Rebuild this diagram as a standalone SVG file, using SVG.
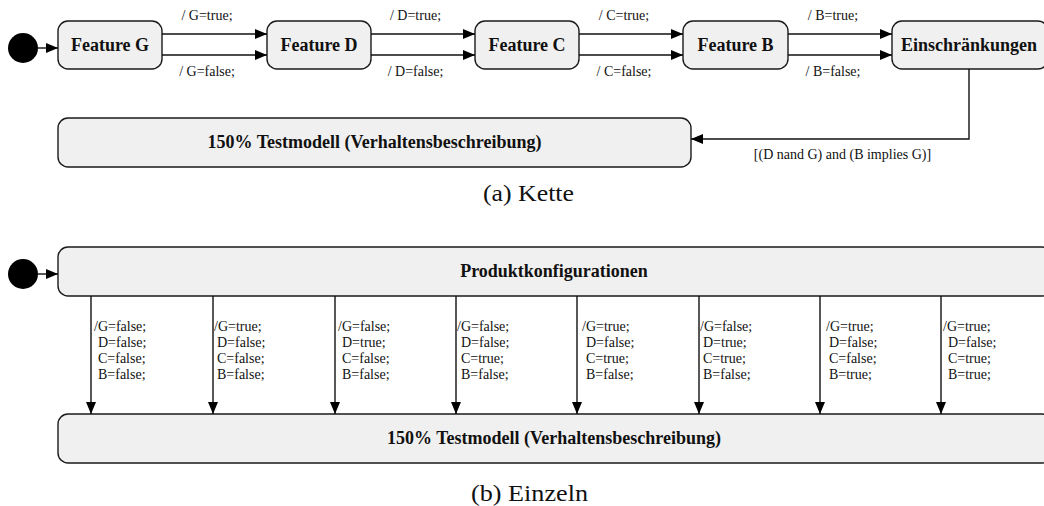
<svg xmlns="http://www.w3.org/2000/svg" width="1044" height="506" viewBox="0 0 1044 506">
  <style>
    .state { fill: #f0f0f0; stroke: #1a1a1a; stroke-width: 1.4; }
    .init { fill: #000; }
    .name { font-family: "Liberation Serif", "Times New Roman", serif; font-weight: bold; font-size: 18px; fill: #111; text-anchor: middle; }
    .lbl { font-family: "Liberation Serif", "Times New Roman", serif; font-size: 14px; fill: #111; }
    .mid { text-anchor: middle; }
    .cap { font-family: "Liberation Serif", "Times New Roman", serif; font-size: 23px; fill: #111; }
    .edge { fill: none; stroke: #111; stroke-width: 1.4; }
  </style>
  <defs>
    <marker id="arrow" viewBox="0 0 12 10" refX="12" refY="5" markerWidth="12" markerHeight="10" markerUnits="userSpaceOnUse" orient="auto">
      <path d="M0,0 L12,5 L0,10 z" fill="#000"/>
    </marker>
  </defs>

  <!-- (a) chain of feature decisions -->
  <circle id="start-a" class="init" cx="23" cy="48" r="15"/>
  <g id="feature-g"><rect class="state" x="58" y="21" width="104" height="48" rx="10"/><text class="name" x="110" y="51">Feature G</text></g>
  <g id="feature-d"><rect class="state" x="267" y="21" width="104" height="48" rx="10"/><text class="name" x="319" y="51">Feature D</text></g>
  <g id="feature-c"><rect class="state" x="475" y="21" width="104" height="48" rx="10"/><text class="name" x="527" y="51">Feature C</text></g>
  <g id="feature-b"><rect class="state" x="683" y="21" width="105" height="48" rx="10"/><text class="name" x="735.5" y="51">Feature B</text></g>
  <g id="einschraenkungen"><rect class="state" x="892" y="21" width="156" height="48" rx="10"/><text class="name" x="969" y="51">Einschränkungen</text></g>
  <g id="testmodell-a"><rect class="state" x="58" y="118" width="633" height="49" rx="10"/><text class="name" x="374.5" y="148">150% Testmodell (Verhaltensbeschreibung)</text></g>

  <g id="edges-a">
    <line class="edge" x1="38" y1="48" x2="58" y2="48" marker-end="url(#arrow)"/>
    <line class="edge" x1="162" y1="34" x2="267" y2="34" marker-end="url(#arrow)"/>
    <line class="edge" x1="162" y1="55" x2="267" y2="55" marker-end="url(#arrow)"/>
    <line class="edge" x1="371" y1="34" x2="475" y2="34" marker-end="url(#arrow)"/>
    <line class="edge" x1="371" y1="55" x2="475" y2="55" marker-end="url(#arrow)"/>
    <line class="edge" x1="579" y1="34" x2="683" y2="34" marker-end="url(#arrow)"/>
    <line class="edge" x1="579" y1="55" x2="683" y2="55" marker-end="url(#arrow)"/>
    <line class="edge" x1="788" y1="34" x2="892" y2="34" marker-end="url(#arrow)"/>
    <line class="edge" x1="788" y1="55" x2="892" y2="55" marker-end="url(#arrow)"/>
    <polyline class="edge" points="969,69 969,139 691,139" marker-end="url(#arrow)"/>
    <text class="lbl mid" x="207" y="20">/ G=true;</text>
    <text class="lbl mid" x="207" y="76">/ G=false;</text>
    <text class="lbl mid" x="415.5" y="20">/ D=true;</text>
    <text class="lbl mid" x="415.5" y="76">/ D=false;</text>
    <text class="lbl mid" x="624" y="20">/ C=true;</text>
    <text class="lbl mid" x="624" y="76">/ C=false;</text>
    <text class="lbl mid" x="833" y="20">/ B=true;</text>
    <text class="lbl mid" x="833" y="76">/ B=false;</text>
    <text class="lbl mid" x="842.5" y="159">[(D nand G) and (B implies G)]</text>
  </g>
  <text class="cap" x="483" y="201" textLength="91" lengthAdjust="spacingAndGlyphs">(a) Kette</text>

  <!-- (b) one transition per product configuration -->
  <circle id="start-b" class="init" cx="23" cy="274" r="15"/>
  <g id="produktkonfigurationen"><rect class="state" x="58" y="247" width="994" height="49" rx="10"/><text class="name" x="554" y="277">Produktkonfigurationen</text></g>
  <g id="testmodell-b"><rect class="state" x="58" y="414" width="994" height="49" rx="10"/><text class="name" x="554" y="444">150% Testmodell (Verhaltensbeschreibung)</text></g>

  <g id="edges-b">
    <line class="edge" x1="38" y1="274" x2="58" y2="274" marker-end="url(#arrow)"/>
    <line class="edge" x1="91" y1="296" x2="91" y2="414" marker-end="url(#arrow)"/>
    <line class="edge" x1="213" y1="296" x2="213" y2="414" marker-end="url(#arrow)"/>
    <line class="edge" x1="335" y1="296" x2="335" y2="414" marker-end="url(#arrow)"/>
    <line class="edge" x1="456" y1="296" x2="456" y2="414" marker-end="url(#arrow)"/>
    <line class="edge" x1="577" y1="296" x2="577" y2="414" marker-end="url(#arrow)"/>
    <line class="edge" x1="699" y1="296" x2="699" y2="414" marker-end="url(#arrow)"/>
    <line class="edge" x1="820" y1="296" x2="820" y2="414" marker-end="url(#arrow)"/>
    <line class="edge" x1="941" y1="296" x2="941" y2="414" marker-end="url(#arrow)"/>

    <text class="lbl"><tspan x="94" y="331">/G=false;</tspan><tspan x="98" y="347">D=false;</tspan><tspan x="98" y="363">C=false;</tspan><tspan x="98" y="379">B=false;</tspan></text>
    <text class="lbl"><tspan x="214" y="331">/G=true;</tspan><tspan x="217" y="347">D=false;</tspan><tspan x="217" y="363">C=false;</tspan><tspan x="217" y="379">B=false;</tspan></text>
    <text class="lbl"><tspan x="338" y="331">/G=false;</tspan><tspan x="342" y="347">D=true;</tspan><tspan x="342" y="363">C=false;</tspan><tspan x="342" y="379">B=false;</tspan></text>
    <text class="lbl"><tspan x="457" y="331">/G=false;</tspan><tspan x="461" y="347">D=false;</tspan><tspan x="461" y="363">C=true;</tspan><tspan x="461" y="379">B=false;</tspan></text>
    <text class="lbl"><tspan x="582" y="331">/G=true;</tspan><tspan x="586" y="347">D=false;</tspan><tspan x="586" y="363">C=true;</tspan><tspan x="586" y="379">B=false;</tspan></text>
    <text class="lbl"><tspan x="700" y="331">/G=false;</tspan><tspan x="703" y="347">D=true;</tspan><tspan x="703" y="363">C=true;</tspan><tspan x="703" y="379">B=false;</tspan></text>
    <text class="lbl"><tspan x="826" y="331">/G=true;</tspan><tspan x="829" y="347">D=false;</tspan><tspan x="829" y="363">C=false;</tspan><tspan x="829" y="379">B=true;</tspan></text>
    <text class="lbl"><tspan x="943" y="331">/G=true;</tspan><tspan x="948" y="347">D=false;</tspan><tspan x="948" y="363">C=true;</tspan><tspan x="948" y="379">B=true;</tspan></text>
  </g>
  <text class="cap" x="471" y="501" textLength="117" lengthAdjust="spacingAndGlyphs">(b) Einzeln</text>
</svg>
